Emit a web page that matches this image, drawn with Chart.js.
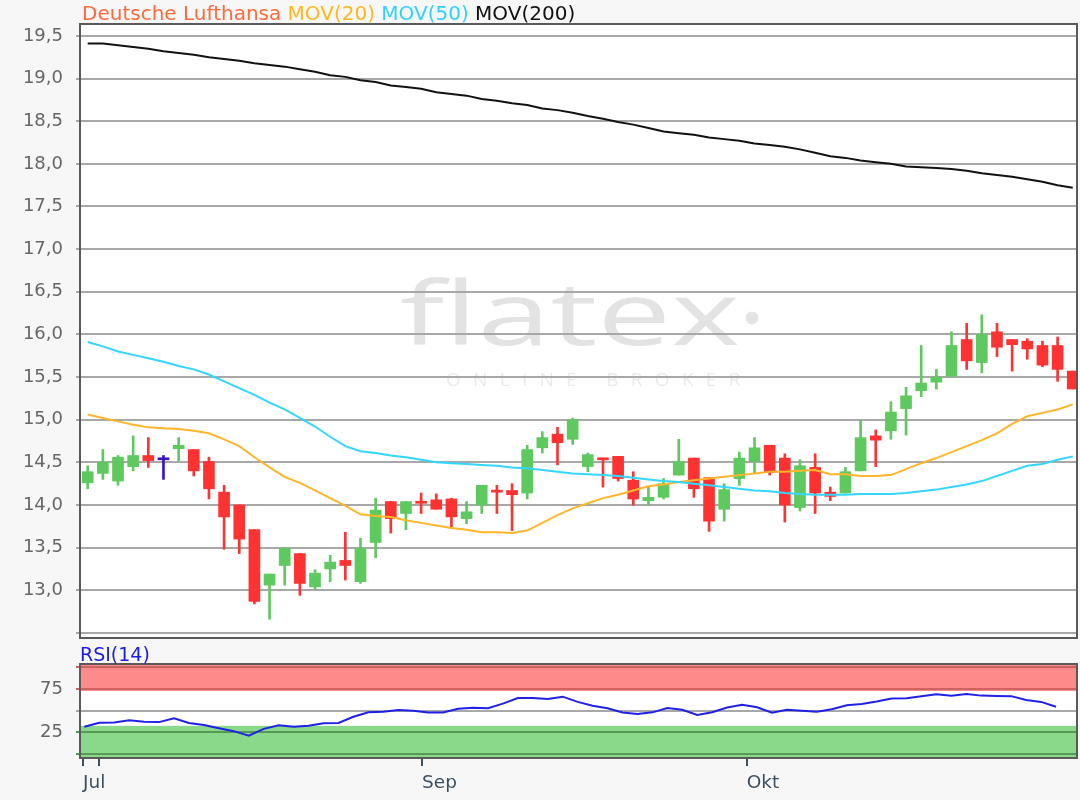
<!DOCTYPE html>
<html><head><meta charset="utf-8">
<script src="https://cdn.jsdelivr.net/npm/chart.js@4.4.1/dist/chart.umd.min.js"></script>
<style>
html,body{margin:0;padding:0;background:#f7f7f7;}
#wrap{position:relative;width:1080px;height:800px;overflow:hidden;background:#f7f7f7;}
#main{position:absolute;left:0;top:0;}
#rsi{position:absolute;left:0;top:645px;}
</style></head><body>
<div id="wrap">
<canvas id="main" width="1080" height="645"></canvas>
<canvas id="rsi" width="1080" height="155"></canvas>
</div>
<script>
// ---- data (daily candles, index 0..65) ----
const open  = [14.26,14.37,14.28,14.45,14.58,14.53,14.66,14.65,14.51,14.15,14.00,13.71,13.06,13.29,13.43,13.04,13.25,13.35,13.10,13.56,14.04,13.90,14.04,14.06,14.07,13.84,14.00,14.17,14.17,14.14,14.67,14.83,14.77,14.45,14.55,14.57,14.29,14.05,14.09,14.35,14.55,14.32,13.95,14.31,14.51,14.70,14.55,13.97,14.44,14.15,14.14,14.40,14.81,14.87,15.13,15.34,15.44,15.51,15.94,15.67,16.03,15.94,15.92,15.87,15.87,15.57];
const high  = [14.46,14.65,14.58,14.81,14.79,14.58,14.79,14.65,14.56,14.23,14.00,13.71,13.19,13.50,13.43,13.24,13.41,13.68,13.61,14.08,14.04,14.04,14.14,14.13,14.08,14.04,14.23,14.23,14.25,14.70,14.86,14.91,15.02,14.61,14.55,14.57,14.39,14.21,14.31,14.77,14.55,14.32,14.25,14.62,14.79,14.70,14.60,14.53,14.60,14.21,14.44,14.99,14.88,15.21,15.38,15.87,15.59,16.03,16.13,16.23,16.13,15.94,15.95,15.92,15.97,15.57];
const low   = [14.19,14.30,14.23,14.40,14.44,14.30,14.52,14.34,14.07,13.48,13.43,12.84,12.66,13.06,12.94,13.01,13.10,13.12,13.08,13.38,13.67,13.71,13.90,13.95,13.74,13.78,13.90,13.90,13.70,14.07,14.61,14.47,14.71,14.39,14.21,14.28,14.00,14.00,14.07,14.35,14.09,13.69,13.81,14.23,14.37,14.35,13.80,13.93,13.90,14.05,14.14,14.40,14.45,14.77,14.82,15.27,15.36,15.51,15.59,15.55,15.74,15.57,15.71,15.62,15.45,15.36];
const close = [14.39,14.50,14.56,14.58,14.52,14.53,14.70,14.40,14.19,13.86,13.60,12.87,13.19,13.49,13.08,13.20,13.33,13.29,13.49,13.94,13.84,14.04,14.02,13.95,13.86,13.92,14.23,14.15,14.12,14.65,14.79,14.73,15.00,14.59,14.53,14.31,14.07,14.09,14.25,14.51,14.19,13.81,14.18,14.55,14.67,14.38,14.00,14.46,14.14,14.10,14.39,14.79,14.76,15.09,15.28,15.43,15.50,15.87,15.69,16.00,15.85,15.88,15.83,15.64,15.59,15.36];
const mov20 = [15.06,15.02,14.98,14.94,14.91,14.90,14.89,14.87,14.84,14.77,14.69,14.56,14.44,14.33,14.26,14.17,14.08,13.99,13.89,13.87,13.86,13.82,13.79,13.76,13.73,13.71,13.68,13.68,13.67,13.70,13.79,13.88,13.96,14.02,14.08,14.12,14.17,14.22,14.24,14.27,14.29,14.31,14.33,14.35,14.37,14.39,14.39,14.40,14.41,14.36,14.36,14.34,14.34,14.35,14.42,14.49,14.55,14.62,14.69,14.76,14.84,14.95,15.04,15.08,15.12,15.18];
const mov50 = [15.91,15.86,15.80,15.76,15.72,15.68,15.63,15.59,15.53,15.45,15.37,15.29,15.20,15.12,15.02,14.92,14.80,14.69,14.63,14.61,14.58,14.56,14.53,14.50,14.49,14.48,14.47,14.46,14.44,14.43,14.41,14.39,14.37,14.36,14.35,14.34,14.32,14.30,14.28,14.27,14.25,14.23,14.21,14.19,14.17,14.16,14.14,14.13,14.12,14.12,14.12,14.13,14.13,14.13,14.14,14.16,14.18,14.21,14.24,14.28,14.34,14.40,14.46,14.48,14.53,14.57];
const mov200 = [19.41,19.41,19.39,19.37,19.35,19.32,19.30,19.28,19.25,19.23,19.21,19.18,19.16,19.14,19.11,19.08,19.04,19.02,18.98,18.96,18.92,18.90,18.88,18.84,18.82,18.80,18.76,18.74,18.71,18.69,18.65,18.63,18.60,18.56,18.53,18.49,18.46,18.42,18.38,18.36,18.34,18.31,18.29,18.27,18.24,18.22,18.20,18.17,18.13,18.09,18.07,18.04,18.02,18.00,17.97,17.96,17.95,17.94,17.92,17.89,17.87,17.85,17.82,17.79,17.75,17.72];
const rsi = [31.4,36.0,36.4,38.8,37.2,36.8,41.1,35.8,33.4,29.8,26.4,21.2,29.0,33.2,31.4,32.7,35.6,35.8,43.0,48.0,48.6,50.7,49.8,47.8,47.8,52.0,53.3,52.7,58.0,64.4,64.5,63.3,66.0,60.0,55.5,52.8,47.9,46.1,48.0,53.0,51.0,44.9,48.2,53.6,56.6,53.8,47.6,51.1,49.8,48.7,51.6,56.1,57.6,60.5,63.9,64.2,66.6,68.9,67.2,69.0,67.2,66.9,66.6,62.2,60.0,54.5];
const priceTicks = [12.5,13,13.5,14,14.5,15,15.5,16,16.5,17,17.5,18,18.5,19,19.5];
const rsiTicks = [0,25,50,75,100];
const rsiTickLabels = ['', '25', '', '75', ''];
const monthTickPos = [-0.09, 0.98, 22.59, 44.31];
const monthLabels = ['Jul', '', 'Sep', 'Okt'];
const rsiZoneHigh = [72.5, 103.5];
const rsiZoneLow = [-4.4, 32.5];
const titleParts = [
  {text:'Deutsche Lufthansa', color:'#ff6a3d'},
  {text:'MOV(20)', color:'#ffb81c'},
  {text:'MOV(50)', color:'#2fd2ff'},
  {text:'MOV(200)', color:'#111111'}
];

// ---- styles ----
const FONT = "'DejaVu Sans', sans-serif";
const UP = '#5ec95e', DOWN = '#ff3232', DOJI = '#3a12cc';
const idx = open.map((_, i) => i);
const candleColors = idx.map(i => close[i] > open[i] ? UP : (close[i] < open[i] ? DOWN : DOJI));

const bgPlugin = {
  id: 'bg',
  beforeDraw(chart, args, opts) {
    const {ctx, chartArea: a} = chart;
    ctx.save();
    ctx.fillStyle = '#f7f7f7';
    ctx.fillRect(0, 0, chart.width, chart.height);
    ctx.fillStyle = '#ffffff';
    ctx.fillRect(a.left, a.top, a.right - a.left, a.bottom - a.top);
    if (opts.watermark) {
      ctx.textBaseline = 'alphabetic';
      ctx.textAlign = 'left';
      ctx.fillStyle = '#e3e3e3';
      ctx.font = "normal 88px 'Open Sans', sans-serif";
      const word = 'flatex';
      const w0 = ctx.measureText(word).width;
      ctx.save();
      ctx.translate(400, 345);
      ctx.scale(340 / w0, 1);
      ctx.fillText(word, 0, 0);
      ctx.restore();
      ctx.beginPath();
      ctx.arc(752, 318, 6.5, 0, Math.PI * 2);
      ctx.fill();
      ctx.fillStyle = '#eaeaea';
      ctx.font = "19px 'Open Sans', sans-serif";
      const sub = 'ONLINE BROKER';
      const w1 = ctx.measureText(sub).width;
      ctx.letterSpacing = ((294 - w1) / (sub.length - 1)).toFixed(1) + 'px';
      ctx.fillText(sub, 446, 386);
      ctx.letterSpacing = '0px';
    }
    if (opts.zones) {
      const y = chart.scales.y;
      ctx.fillStyle = '#ff8a8a';
      const h1 = Math.max(a.top, y.getPixelForValue(opts.zones.high[1])), h0 = y.getPixelForValue(opts.zones.high[0]);
      ctx.fillRect(a.left, h1, a.right - a.left, h0 - h1);
      ctx.fillStyle = '#8ad88a';
      const l1 = y.getPixelForValue(opts.zones.low[1]), l0 = Math.min(a.bottom, y.getPixelForValue(opts.zones.low[0]));
      ctx.fillRect(a.left, l1, a.right - a.left, l0 - l1);
    }
    ctx.restore();
  }
};
const framePlugin = {
  id: 'frame',
  afterDraw(chart) {
    const {ctx, chartArea: a} = chart;
    ctx.save();
    ctx.strokeStyle = '#5a5a5a';
    ctx.lineWidth = 2;
    ctx.strokeRect(a.left, a.top, a.right - a.left, a.bottom - a.top);
    ctx.restore();
  }
};
const titlePlugin = {
  id: 'ttl',
  afterDraw(chart, args, opts) {
    const {ctx} = chart;
    ctx.save();
    ctx.font = opts.font;
    ctx.textBaseline = 'alphabetic';
    ctx.textAlign = 'left';
    let x = opts.x;
    const sp = ctx.measureText(' ').width;
    opts.parts.forEach(p => {
      ctx.fillStyle = p.color;
      ctx.fillText(p.text, x, opts.y);
      x += ctx.measureText(p.text).width + sp;
    });
    ctx.restore();
  }
};
const fixY = s => { s.width = 80; s.paddingTop = 0; s.paddingBottom = 0; };

new Chart(document.getElementById('main'), {
  type: 'bar',
  data: {
    datasets: [
      {type: 'line', label: 'MOV(200)', data: idx.map(i => ({x: i, y: mov200[i]})), borderColor: '#111111', borderWidth: 2, pointRadius: 0, tension: 0, order: 0},
      {type: 'line', label: 'MOV(50)', data: idx.map(i => ({x: i, y: mov50[i]})), borderColor: '#33d6ff', borderWidth: 2, pointRadius: 0, tension: 0, order: 0},
      {type: 'line', label: 'MOV(20)', data: idx.map(i => ({x: i, y: mov20[i]})), borderColor: '#ffb52a', borderWidth: 2, pointRadius: 0, tension: 0, order: 0},
      {type: 'bar', label: 'body', data: idx.map(i => ({x: i, y: [open[i], close[i]]})), backgroundColor: candleColors, borderWidth: 0, barThickness: 11, grouped: false, minBarLength: 2, order: 1},
      {type: 'bar', label: 'wick', data: idx.map(i => ({x: i, y: [low[i], high[i]]})), backgroundColor: candleColors, borderWidth: 0, barThickness: 2, grouped: false, order: 2}
    ]
  },
  options: {
    responsive: false,
    animation: false,
    events: [],
    layout: {padding: {top: 24, right: 3, bottom: 7, left: 0}},
    plugins: {
      legend: {display: false},
      tooltip: {enabled: false},
      bg: {watermark: true},
      ttl: {parts: titleParts, x: 82, y: 20, font: "20px " + FONT}
    },
    scales: {
      x: {type: 'linear', min: -0.508, max: 65.28, offset: false, display: false, grid: {offset: false}},
      y: {
        type: 'linear', min: 12.44, max: 19.64,
        afterFit: fixY,
        afterBuildTicks: s => { s.ticks = priceTicks.map(v => ({value: v})); },
        ticks: {
          callback: v => v < 12.9 ? '' : v.toFixed(1).replace('.', ','),
          autoSkip: false,
          font: {family: FONT, size: 18}, color: '#666666', padding: 13
        },
        grid: {color: '#a8a8a8', lineWidth: 2, tickLength: 4},
        border: {display: false}
      }
    }
  },
  plugins: [bgPlugin, framePlugin, titlePlugin]
});

const rsiGridColor = v => v >= 75 ? '#cf6262' : (v <= 25 ? '#559955' : '#a8a8a8');

new Chart(document.getElementById('rsi'), {
  type: 'line',
  data: {
    datasets: [
      {label: 'RSI(14)', data: rsi.map((v, i) => ({x: i, y: v})), borderColor: '#2020e6', borderWidth: 2, pointRadius: 0, tension: 0}
    ]
  },
  options: {
    responsive: false,
    animation: false,
    events: [],
    layout: {padding: {top: 19, right: 3, bottom: 0, left: 0}},
    plugins: {
      legend: {display: false},
      tooltip: {enabled: false},
      bg: {zones: {high: rsiZoneHigh, low: rsiZoneLow}},
      ttl: {parts: [{text: 'RSI(14)', color: '#1a1aee'}], x: 80, y: 16, font: "19px " + FONT}
    },
    scales: {
      x: {
        type: 'linear', min: -0.29, max: 66.4, offset: false,
        afterBuildTicks: s => { s.ticks = monthTickPos.map(v => ({value: v})); },
        afterFit: s => { s.height = 42; s.paddingLeft = 0; s.paddingRight = 0; },
        ticks: {callback: (v, i) => monthLabels[i], autoSkip: false, maxRotation: 0, minRotation: 0, align: 'start', padding: 6, font: {family: FONT, size: 18.5}, color: '#3d4e5f'},
        grid: {drawOnChartArea: false, tickLength: 8, color: '#3d4e5f', lineWidth: 2},
        border: {display: false}
      },
      y: {
        type: 'linear', min: -4.4, max: 103.5,
        afterFit: fixY,
        afterBuildTicks: s => { s.ticks = rsiTicks.map(v => ({value: v})); },
        ticks: {callback: (v, i) => rsiTickLabels[i], autoSkip: false, font: {family: FONT, size: 18}, color: '#666666', padding: 13},
        grid: {color: c => rsiGridColor(c.tick ? c.tick.value : 50), lineWidth: 2, tickLength: 4},
        border: {display: false}
      }
    }
  },
  plugins: [bgPlugin, framePlugin, titlePlugin]
});
</script>
</body></html>
